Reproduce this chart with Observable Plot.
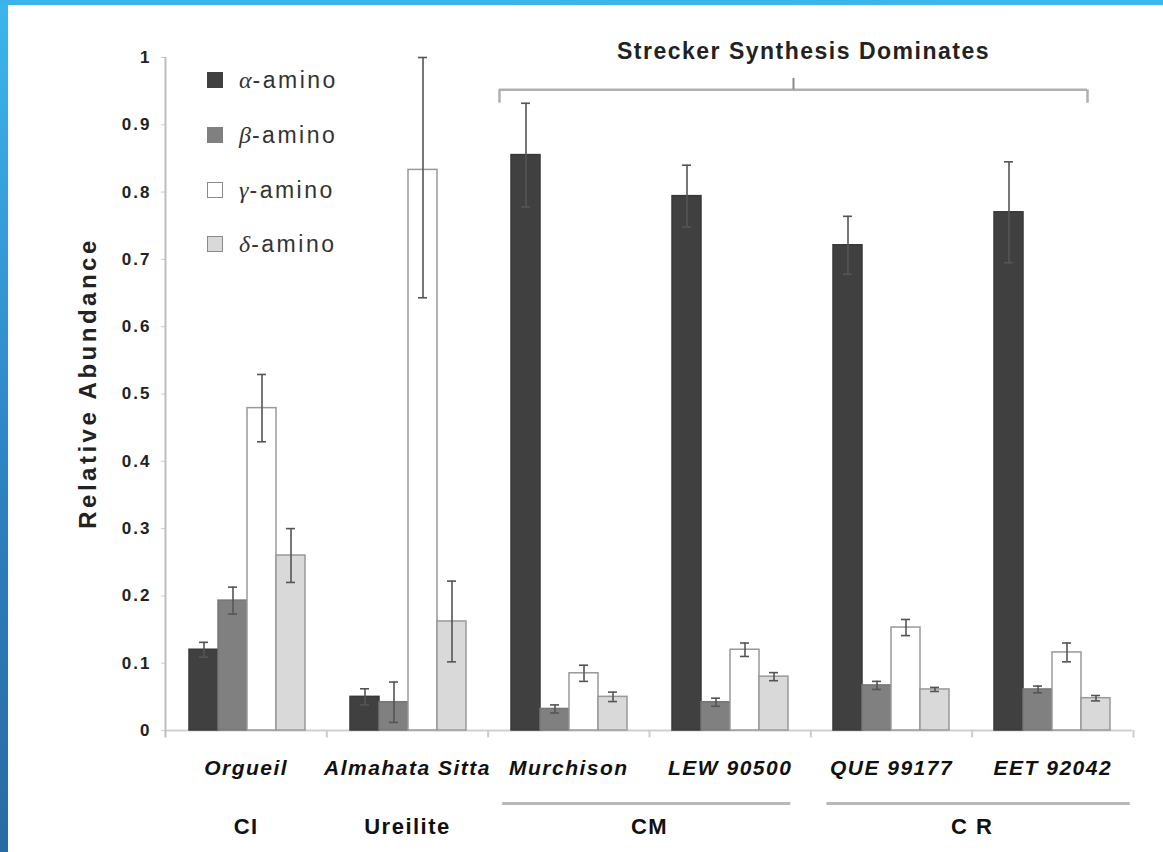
<!DOCTYPE html>
<html>
<head>
<meta charset="utf-8">
<script src="https://cdn.jsdelivr.net/npm/d3@7"></script>
<script src="https://cdn.jsdelivr.net/npm/@observablehq/plot@0.6"></script>
<style>
  html, body { margin: 0; padding: 0; background: #fff; }
  #wrap { position: relative; width: 1163px; height: 852px; overflow: hidden; background: #fff; font-family: "Liberation Sans", Arial, sans-serif; }
  #main, #overlay { position: absolute; left: 0; top: 0; }
  #overlay { pointer-events: none; }
  #main svg text { letter-spacing: 2px; }
  #overlay svg text { letter-spacing: 1.5px; }
  #overlay svg g[aria-label="title"] text { letter-spacing: 2px; }
  .edge-left { position: absolute; left: 0; top: 0; width: 8px; height: 852px; background: linear-gradient(#3cb6ee, #2d7fbe 60%, #2a6aa3); }
  .edge-top { position: absolute; left: 0; top: 0; width: 1163px; height: 5px; background: linear-gradient(90deg, #3ab2ea, #3fb6ec); }
  #legend { position: absolute; left: 207px; top: 0; }
  .item { position: absolute; left: 0; display: flex; align-items: center; white-space: nowrap; font-size: 23px; color: #333; letter-spacing: 2.5px; }
  .sw { width: 16px; height: 16px; box-sizing: border-box; margin-right: 16px; }
  .gr { font-family: "Liberation Serif", serif; font-style: italic; font-size: 24px; letter-spacing: 1px; }
  #ytitle { position: absolute; left: 88px; top: 383px; transform: translate(-50%, -50%) rotate(-90deg); font-size: 24px; font-weight: bold; color: #222; letter-spacing: 3.5px; white-space: nowrap; }
</style>
</head>
<body>
<div id="wrap">
  <div id="main"></div>
  <div id="overlay"></div>
  <div id="legend"></div>
  <div id="ytitle">Relative Abundance</div>
  <div class="edge-left"></div>
  <div class="edge-top"></div>
</div>
<script>
// ---- data ----
const sites = ["Orgueil", "Almahata Sitta", "Murchison", "LEW 90500", "QUE 99177", "EET 92042"];
const seriesNames = ["α-amino", "β-amino", "γ-amino", "δ-amino"];
const alpha    = [0.120, 0.050, 0.855, 0.794, 0.721, 0.770];
const alphaErr = [0.011, 0.012, 0.077, 0.046, 0.043, 0.075];
const beta     = [0.193, 0.042, 0.032, 0.042, 0.067, 0.061];
const betaErr  = [0.020, 0.030, 0.006, 0.006, 0.006, 0.005];
const gamma    = [0.479, 0.833, 0.085, 0.120, 0.153, 0.116];
const gammaErr = [0.050, 0.190, 0.012, 0.010, 0.012, 0.014];
const delta    = [0.260, 0.162, 0.050, 0.080, 0.061, 0.048];
const deltaErr = [0.040, 0.060, 0.007, 0.006, 0.003, 0.004];
const yTicks = [0, 0.1, 0.2, 0.3, 0.4, 0.5, 0.6, 0.7, 0.8, 0.9, 1];
const groupNames = ["CI", "Ureilite", "CM", "C R"];
const groupStart = [0, 1, 2, 4];
const groupSpan  = [1, 1, 2, 2];
const groupLineFrom = [null, null, 2.09, 4.10];   // in site units
const groupLineTo   = [null, null, 3.876, 5.98];
const bracketTitle = "Strecker Synthesis Dominates";
const bracketFrom = 2.07, bracketTo = 5.715;   // in site units

// ---- styles ----
const fills   = ["#404040", "#808080", "#ffffff", "#d9d9d9"];
const strokes = ["#383838", "#767676", "#999999", "#999999"];
const fillOf = Object.fromEntries(seriesNames.map((s, j) => [s, fills[j]]));
const strokeOf = Object.fromEntries(seriesNames.map((s, j) => [s, strokes[j]]));

const values = [alpha, beta, gamma, delta];
const errs = [alphaErr, betaErr, gammaErr, deltaErr];
const rows = sites.flatMap((site, i) => seriesNames.map((s, j) => ({
  site, series: s, value: values[j][i], err: errs[j][i]
})));

const W = 1163, H = 852;
const M = {left: 165, right: 30, top: 57, bottom: 122};
const font = "'Liberation Sans', Arial, sans-serif";

const main = Plot.plot({
  width: W, height: H,
  marginLeft: M.left, marginRight: M.right, marginTop: M.top, marginBottom: M.bottom,
  style: {fontFamily: font, background: "transparent", overflow: "visible"},
  fx: {domain: sites, padding: 0, axis: null, label: null},
  x: {domain: seriesNames, paddingInner: 0, paddingOuter: 0.74, axis: null},
  y: {domain: [0, 1], axis: null},
  marks: [
    Plot.ruleY([0], {stroke: "#d0d0d0", strokeWidth: 2}),
    Plot.barY(rows, {fx: "site", x: "series", y: "value",
      fill: d => fillOf[d.series], stroke: d => strokeOf[d.series], strokeWidth: 1.5}),
    Plot.ruleX(rows, {fx: "site", x: "series",
      y1: d => d.value - d.err, y2: d => Math.min(1, d.value + d.err),
      stroke: "#555", strokeWidth: 1.6}),
    Plot.tickY(rows, {fx: "site", x: "series", y: d => Math.min(1, d.value + d.err),
      insetLeft: 10, insetRight: 10, stroke: "#555", strokeWidth: 1.6}),
    Plot.tickY(rows, {fx: "site", x: "series", y: d => d.value - d.err,
      insetLeft: 10, insetRight: 10, stroke: "#555", strokeWidth: 1.6}),
    Plot.axisY({ticks: yTicks, tickFormat: d => String(+d.toFixed(1)), tickSize: 5, tickPadding: 10,
      stroke: "#cccccc", fill: "#222", fontSize: 17, fontWeight: "bold", label: null})
  ]
});
document.getElementById("main").appendChild(main);

const bracketMid = (bracketFrom + bracketTo) / 2;
const lineIdx = groupNames.map((g, k) => k).filter(k => groupLineFrom[k] != null);
const overlay = Plot.plot({
  width: W, height: H,
  marginLeft: M.left, marginRight: M.right, marginTop: M.top, marginBottom: M.bottom,
  style: {fontFamily: font, background: "transparent", overflow: "visible"},
  x: {type: "linear", domain: [0, sites.length], axis: null},
  y: {domain: [0, 1], axis: null},
  marks: [
    // y axis line
    Plot.ruleX([0], {y1: -0.011, y2: 1, stroke: "#bdbdbd", strokeWidth: 2}),
    // category boundary ticks
    Plot.ruleX(d3.range(1, sites.length + 1), {y1: -0.011, y2: 0, stroke: "#cccccc", strokeWidth: 2}),
    // site names
    Plot.text(sites, {x: (d, i) => i + 0.5, y: 0, dy: 38, text: d => d,
      fontStyle: "italic", fontWeight: "bold", fontSize: 21, fill: "#111"}),
    // class lines
    Plot.ruleY(lineIdx, {x1: k => groupLineFrom[k], x2: k => groupLineTo[k],
      y: 0, dy: 73, stroke: "#b8b8b8", strokeWidth: 3}),
    // class names
    Plot.text(groupNames, {x: (d, k) => groupStart[k] + groupSpan[k] / 2, y: 0, dy: 96,
      text: d => d, fontWeight: "bold", fontSize: 22, fill: "#111"}),
    // bracket
    Plot.ruleY([0.952], {x1: bracketFrom, x2: bracketTo, stroke: "#b0b0b0", strokeWidth: 2.5}),
    Plot.ruleX([bracketFrom, bracketTo], {y1: 0.932, y2: 0.952, stroke: "#b0b0b0", strokeWidth: 2.5}),
    Plot.ruleX([bracketMid], {y1: 0.952, y2: 0.969, stroke: "#888", strokeWidth: 2}),
    Plot.text([bracketTitle], {x: bracketMid, y: 1, dy: -6, dx: 10, text: d => d,
      fontSize: 23, fontWeight: "bold", fill: "#222", ariaLabel: "title"})
  ]
});
document.getElementById("overlay").appendChild(overlay);

// legend
const legend = document.getElementById("legend");
const rowY = [80, 135, 190, 244];
seriesNames.forEach((s, j) => {
  const it = document.createElement("div");
  it.className = "item";
  it.style.top = (rowY[j] - 14) + "px";
  it.style.height = "28px";
  const sw = document.createElement("div");
  sw.className = "sw";
  sw.style.background = fills[j];
  sw.style.border = "1.5px solid " + (j < 2 ? fills[j] : "#8a8a8a");
  it.appendChild(sw);
  const g = document.createElement("span");
  g.className = "gr";
  g.textContent = s[0];
  it.appendChild(g);
  const t = document.createElement("span");
  t.textContent = s.slice(1);
  it.appendChild(t);
  legend.appendChild(it);
});
</script>
</body>
</html>
